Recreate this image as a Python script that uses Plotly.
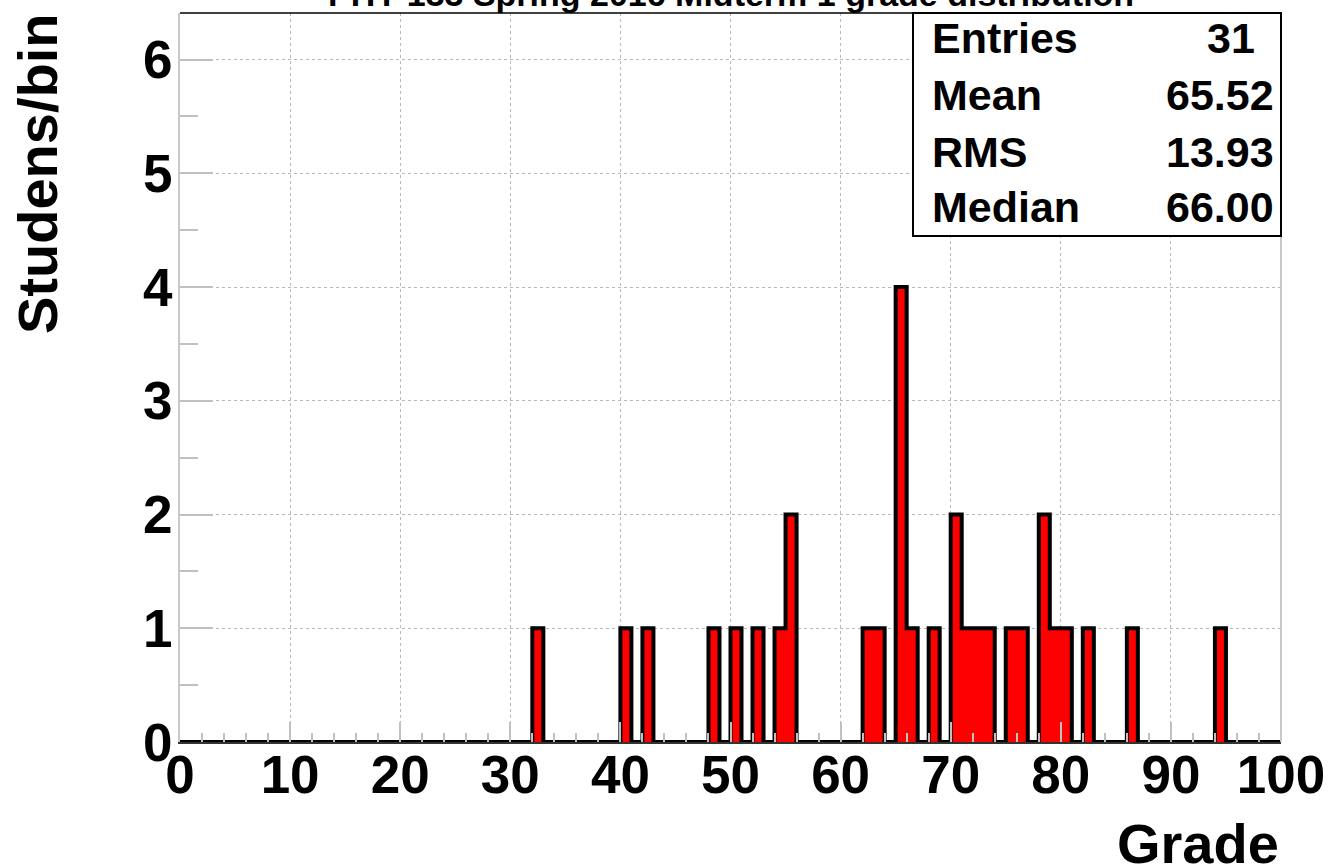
import plotly.graph_objects as go

# ---- data ----
bin_low = [32, 40, 42, 48, 50, 52, 54, 55, 62, 63, 65, 66, 68, 70, 71, 72, 73,
           75, 76, 78, 79, 80, 82, 86, 94]
bin_count = [1, 1, 1, 1, 1, 1, 1, 2, 1, 1, 4, 1, 1, 2, 1, 1, 1,
             1, 1, 2, 1, 1, 1, 1, 1]
n_bins = 100
x_min, x_max = 0, 100

stat_names = ["Entries", "Mean", "RMS", "Median"]
stat_values = ["31", "65.52", "13.93", "66.00"]

title_text = "PHY 133 Spring 2016 Midterm 1 grade distribution"
x_title = "Grade"
y_title = "Studens/bin"

# full histogram
counts = [0] * n_bins
for lo, c in zip(bin_low, bin_count):
    counts[lo] = c
edges = list(range(x_min, x_max + 1))
centers = [e + 0.5 for e in edges[:-1]]
step_y = counts + [counts[-1]]

FONT = "Liberation Sans, Arial, sans-serif"

fig = go.Figure()
fig.add_trace(go.Bar(x=centers, y=counts, width=1.0,
                     marker=dict(color="#ff0000", line=dict(width=0)),
                     showlegend=False, hoverinfo="skip"))
fig.add_trace(go.Scatter(x=edges, y=step_y, mode="lines",
                         line=dict(color="black", width=4, shape="hv"),
                         showlegend=False, hoverinfo="skip"))

L, R, T, B = 180, 50, 13, 124
W, H = 1331, 866
pw, ph = W - L - R, H - T - B

def px_x(p):
    return (p - L) / pw

def px_y(p):
    return (H - B - p) / ph

fig.update_layout(
    width=W, height=H,
    margin=dict(l=L, r=R, t=T, b=B, autoexpand=False),
    plot_bgcolor="white", paper_bgcolor="white",
    bargap=0,
    font=dict(family=FONT, color="black"),
)

fig.update_xaxes(
    range=[x_min, x_max], tickmode="linear", tick0=0, dtick=10,
    ticks="inside", ticklen=20, tickwidth=2, tickcolor="#c0c0c0",
    minor=dict(ticks="inside", ticklen=9, dtick=2, tickcolor="#c0c0c0", tickwidth=2, showgrid=False),
    showgrid=True, gridcolor="#b8b8b8", griddash="dot", gridwidth=1,
    showline=True, linecolor="#333333", linewidth=2,
    tickfont=dict(family=FONT, size=53, color="black", weight="bold"),
    ticklabelstandoff=-15, automargin=False,
    zeroline=False,
)
fig.update_yaxes(
    range=[0, 6.41], tickmode="linear", tick0=0, dtick=1,
    ticks="inside", ticklen=33, tickwidth=2, tickcolor="#c0c0c0",
    minor=dict(ticks="inside", ticklen=18, dtick=0.5, tickcolor="#c0c0c0", tickwidth=2, showgrid=False),
    showgrid=True, gridcolor="#b8b8b8", griddash="dot", gridwidth=1,
    showline=True, linecolor="#c8c8c8", linewidth=2,
    tickfont=dict(family=FONT, size=53, color="black", weight="bold"),
    ticklabelstandoff=-5, automargin=False,
    zeroline=False,
)

shapes = [
    # top frame line
    dict(type="line", xref="paper", yref="paper", x0=0, x1=1, y0=1, y1=1,
         line=dict(color="black", width=1.5)),
    # right frame line
    dict(type="line", xref="paper", yref="paper", x0=1, x1=1, y0=0, y1=1,
         line=dict(color="#c8c8c8", width=2)),
    # stats box
    dict(type="rect", xref="paper", yref="paper",
         x0=px_x(913), x1=1.0, y0=px_y(236), y1=1.0,
         fillcolor="white", line=dict(color="black", width=2), layer="above"),
]
fig.update_layout(shapes=shapes)

ann = []
row_centers = [38, 95, 152, 207]
for i, (nm, val) in enumerate(zip(stat_names, stat_values)):
    ann.append(dict(text=nm, xref="paper", yref="paper", x=px_x(930), y=px_y(row_centers[i]),
                    xanchor="left", yanchor="middle", showarrow=False,
                    font=dict(family=FONT, size=43, color="black", weight="bold")))
    xr = 1257 if i == 0 else 1276
    ann.append(dict(text=val, xref="paper", yref="paper", x=px_x(xr), y=px_y(row_centers[i]),
                    xanchor="right", yanchor="middle", showarrow=False,
                    font=dict(family=FONT, size=43, color="black", weight="bold")))

# title (cut by top edge as in reference)
ann.append(dict(text=title_text, xref="paper", yref="paper", x=0.5, y=px_y(-6),
                xanchor="center", yanchor="middle", showarrow=False,
                font=dict(family=FONT, size=34, color="black", weight="bold")))
# x axis title
ann.append(dict(text=x_title, xref="paper", yref="paper", x=px_x(1281), y=px_y(843),
                xanchor="right", yanchor="middle", showarrow=False,
                font=dict(family=FONT, size=56, color="black", weight="bold")))
# y axis title
ann.append(dict(text=y_title, xref="paper", yref="paper", x=px_x(37), y=px_y(12),
                xanchor="center", yanchor="top", textangle=-90, showarrow=False,
                font=dict(family=FONT, size=56, color="black", weight="bold")))
fig.update_layout(annotations=ann)

fig.write_html("out.html", config={"displayModeBar": False},
               post_script="document.body.style.margin='0';document.body.style.overflow='hidden';")
